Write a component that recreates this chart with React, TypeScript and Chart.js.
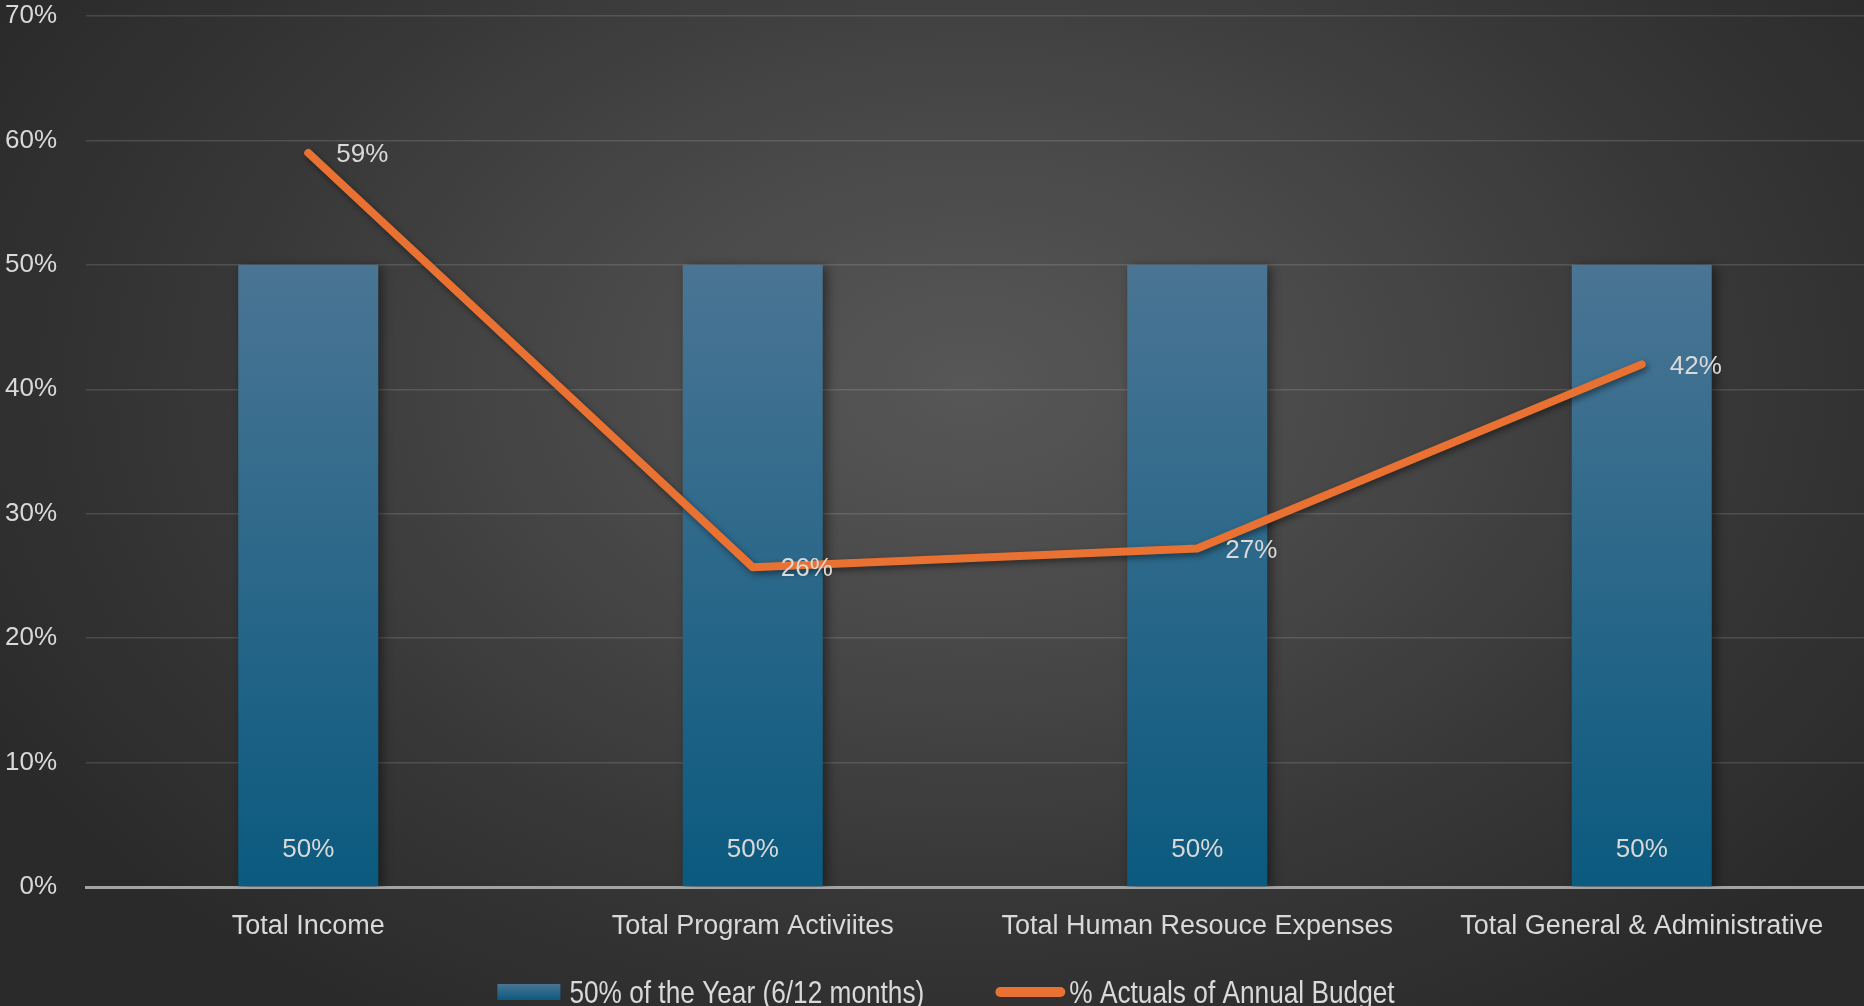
import React, { useEffect, useRef } from "react";
import { Chart, registerables } from "chart.js";

Chart.register(...registerables);

const categories = [
  "Total Income",
  "Total Program Activiites",
  "Total Human Resouce Expenses",
  "Total General & Administrative",
];
const yearShare = [50, 50, 50, 50];
const actualsPct = [59, 25.7, 27.2, 42];
const barSeriesName = "50% of the Year (6/12 months)";
const lineSeriesName = "% Actuals of Annual Budget";
const yTicks = { min: 0, max: 70, step: 10 };

const W = 1864;
const H = 1006;
const FONT = "'Liberation Sans', Arial, sans-serif";
const TEXT = "#d9d9d9";
const ORANGE = "#E97132";

function barGradient(ctx: CanvasRenderingContext2D, top: number, bottom: number) {
  const g = ctx.createLinearGradient(0, top, 0, bottom);
  g.addColorStop(0, "#4a7594");
  g.addColorStop(1, "#0b5a7f");
  return g;
}

export default function App() {
  const ref = useRef<HTMLCanvasElement | null>(null);

  useEffect(() => {
    document.body.style.margin = "0";
    const canvas = ref.current;
    if (!canvas) return;

    const shadowPlugin = {
      id: "shadows",
      beforeDatasetDraw(chart: any, args: any) {
        const ctx = chart.ctx;
        ctx.save();
        if (args.index === 0) {
          ctx.shadowColor = "rgba(0,0,0,0.45)";
          ctx.shadowBlur = 10;
          ctx.shadowOffsetX = 4;
          ctx.shadowOffsetY = 2;
        } else {
          ctx.shadowColor = "rgba(0,0,0,0.45)";
          ctx.shadowBlur = 6;
          ctx.shadowOffsetX = 2;
          ctx.shadowOffsetY = 3;
        }
      },
      afterDatasetDraw(chart: any) {
        chart.ctx.restore();
      },
    };

    const SX = 0.82;
    const labelsPlugin = {
      id: "labelsAndLegend",
      afterDatasetsDraw(chart: any) {
        const ctx = chart.ctx;
        ctx.save();
        ctx.fillStyle = TEXT;
        ctx.font = `26px ${FONT}`;
        const barMeta = chart.getDatasetMeta(0);
        barMeta.data.forEach((el: any, i: number) => {
          ctx.textAlign = "center";
          ctx.textBaseline = "middle";
          ctx.fillText(`${Math.round(yearShare[i])}%`, el.x, el.base - 36);
        });
        const lineMeta = chart.getDatasetMeta(1);
        lineMeta.data.forEach((el: any, i: number) => {
          ctx.textAlign = "left";
          ctx.textBaseline = "middle";
          ctx.fillText(`${Math.round(actualsPct[i])}%`, el.x + 28, el.y + 2);
        });
        ctx.restore();
      },
      afterDraw(chart: any) {
        const ctx = chart.ctx;
        ctx.save();
        ctx.font = `32px ${FONT}`;
        const t1 = ctx.measureText(barSeriesName).width * SX;
        const t2 = ctx.measureText(lineSeriesName).width * SX;
        const boxW = 63, gap1 = 9, itemGap = 71, lineW = 70, gap2 = 4;
        const total = boxW + gap1 + t1 + itemGap + lineW + gap2 + t2;
        let x = chart.width / 2 + 14 - total / 2;
        const cy = 992;
        ctx.fillStyle = barGradient(ctx, cy - 8, cy + 8);
        ctx.fillRect(x, cy - 8, boxW, 16);
        x += boxW + gap1;
        ctx.fillStyle = TEXT;
        ctx.textAlign = "left";
        ctx.textBaseline = "alphabetic";
        ctx.save();
        ctx.translate(x, 1003);
        ctx.scale(SX, 1);
        ctx.fillText(barSeriesName, 0, 0);
        ctx.restore();
        x += t1 + itemGap;
        ctx.strokeStyle = ORANGE;
        ctx.lineWidth = 10;
        ctx.lineCap = "round";
        ctx.beginPath();
        ctx.moveTo(x + 5, cy);
        ctx.lineTo(x + lineW - 5, cy);
        ctx.stroke();
        x += lineW + gap2;
        ctx.save();
        ctx.translate(x, 1003);
        ctx.scale(SX, 1);
        ctx.fillText(lineSeriesName, 0, 0);
        ctx.restore();
        ctx.restore();
      },
    };

    const chart = new Chart(canvas, {
      type: "bar",
      data: {
        labels: categories,
        datasets: [
          {
            type: "bar",
            label: barSeriesName,
            data: yearShare,
            order: 1,
            backgroundColor: (c: any) => {
              const area = c.chart.chartArea;
              if (!area) return "#1f6a90";
              const ys = c.chart.scales.y;
              return barGradient(c.chart.ctx, ys.getPixelForValue(50), ys.getPixelForValue(0));
            },
            borderWidth: 0,
            categoryPercentage: 1,
            barPercentage: 0.315,
          },
          {
            type: "line",
            label: lineSeriesName,
            data: actualsPct,
            order: 0,
            borderColor: ORANGE,
            backgroundColor: ORANGE,
            borderWidth: 8,
            borderCapStyle: "round",
            borderJoinStyle: "round",
            pointRadius: 0,
            pointHoverRadius: 0,
            tension: 0,
            fill: false,
          },
        ],
      },
      options: {
        responsive: false,
        animation: false,
        layout: { padding: 0 },
        plugins: {
          legend: { display: false },
          tooltip: { enabled: false },
          title: { display: false },
        },
        scales: {
          x: {
            grid: { display: false },
            border: { display: true, color: "#a3a3a3", width: 3 },
            ticks: {
              color: TEXT,
              font: { family: FONT, size: 27 },
              padding: 15,
              maxRotation: 0,
              autoSkip: false,
            },
            afterFit: (s: any) => {
              s.height = 119;
            },
          },
          y: {
            min: yTicks.min,
            max: yTicks.max,
            ticks: {
              stepSize: yTicks.step,
              color: TEXT,
              font: { family: FONT, size: 26 },
              padding: 29,
              callback: (v: any) => `${v}%`,
            },
            grid: {
              color: (c: any) => (c.tick && c.tick.value === 0 ? "rgba(0,0,0,0)" : "rgba(255,255,255,0.13)"),
              lineWidth: 1.5,
              drawTicks: false,
            },
            border: { display: false },
            afterFit: (s: any) => {
              s.width = 86;
              s.paddingTop = 16;
              s.paddingBottom = 0;
            },
          },
        },
      },
      plugins: [shadowPlugin, labelsPlugin],
    } as any);

    return () => chart.destroy();
  }, []);

  return (
    <div
      style={{
        width: W,
        height: H,
        background:
          "radial-gradient(ellipse 60% 75% at 52% 38%, #575757 0%, #484848 35%, #363636 70%, #2a2a2a 100%)",
      }}
    >
      <canvas ref={ref} width={W} height={H} style={{ display: "block" }} />
    </div>
  );
}
